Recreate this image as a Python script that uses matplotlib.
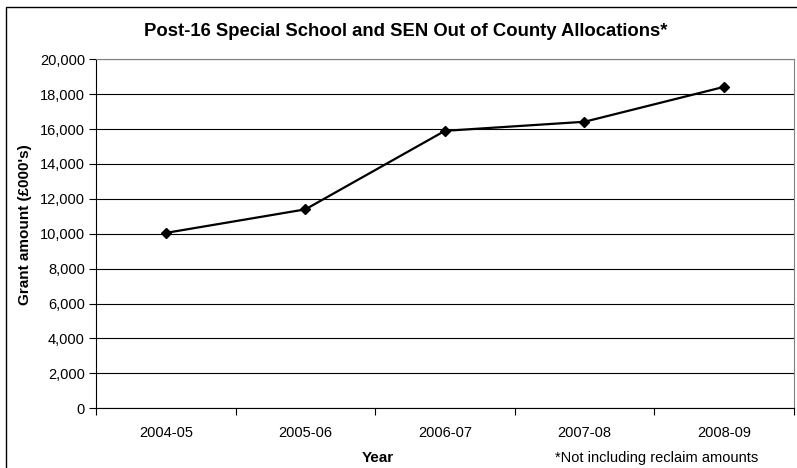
import numpy as np
import matplotlib
matplotlib.use('Agg')
import matplotlib.pyplot as plt
from matplotlib.patches import Rectangle
from matplotlib.ticker import FuncFormatter, FixedLocator

# grant allocations per financial year (£000's)
years = ['2004-05', '2005-06', '2006-07', '2007-08', '2008-09']
grant = [10050, 11400, 15900, 16420, 18420]
y_ticks = list(range(0, 20001, 2000))

plt.rcParams['font.family'] = ['Liberation Sans', 'DejaVu Sans']

fig = plt.figure(figsize=(7.97, 4.68), dpi=100)
ax = fig.add_axes([0.1205, 0.1276, 0.8755, 0.7457])

x = np.arange(len(years))
ax.plot(x, grant, color='black', linewidth=1.6, marker='D', markersize=5.5,
        markerfacecolor='black', markeredgecolor='black', zorder=3)

ax.set_xlim(-0.5, len(years) - 0.5)
ax.set_ylim(0, 20000)

ax.set_yticks(y_ticks)
ax.yaxis.set_major_formatter(FuncFormatter(lambda v, p: f'{int(v):,}'))
ax.grid(axis='y', color='black', linewidth=0.8)
ax.set_axisbelow(True)

# category labels at centres, tick marks between categories
ax.set_xticks(x)
ax.set_xticklabels(years)
ax.xaxis.set_minor_locator(FixedLocator(np.arange(-0.5, len(years), 1.0)))
ax.tick_params(axis='x', which='major', length=0, pad=13, labelsize=10.5)
ax.tick_params(axis='x', which='minor', length=5, width=0.8, direction='out')
ax.tick_params(axis='y', length=5, width=0.8, direction='out', pad=3, labelsize=10.5)

for side in ['left', 'bottom']:
    ax.spines[side].set_color('black')
    ax.spines[side].set_linewidth(0.8)
for side in ['top', 'right']:
    ax.spines[side].set_color('#808080')
    ax.spines[side].set_linewidth(0.8)

fig.text(0.509, 0.924, 'Post-16 Special School and SEN Out of County Allocations*',
         ha='center', va='baseline', fontsize=13.3, fontweight='bold')
fig.text(0.031, 0.521, "Grant amount (£000's)", rotation=90, ha='center', va='center',
         fontsize=11, fontweight='bold')
fig.text(0.474, 0.013, 'Year', ha='center', va='baseline', fontsize=11, fontweight='bold')
fig.text(0.696, 0.013, '*Not including reclaim amounts', ha='left', va='baseline',
         fontsize=10.5)

# chart border
fig.patches.append(Rectangle((0.007, -0.05), 1.1, 1.035, transform=fig.transFigure,
                             fill=False, edgecolor='black', linewidth=1.0))

fig.savefig('out.png', dpi=100)
